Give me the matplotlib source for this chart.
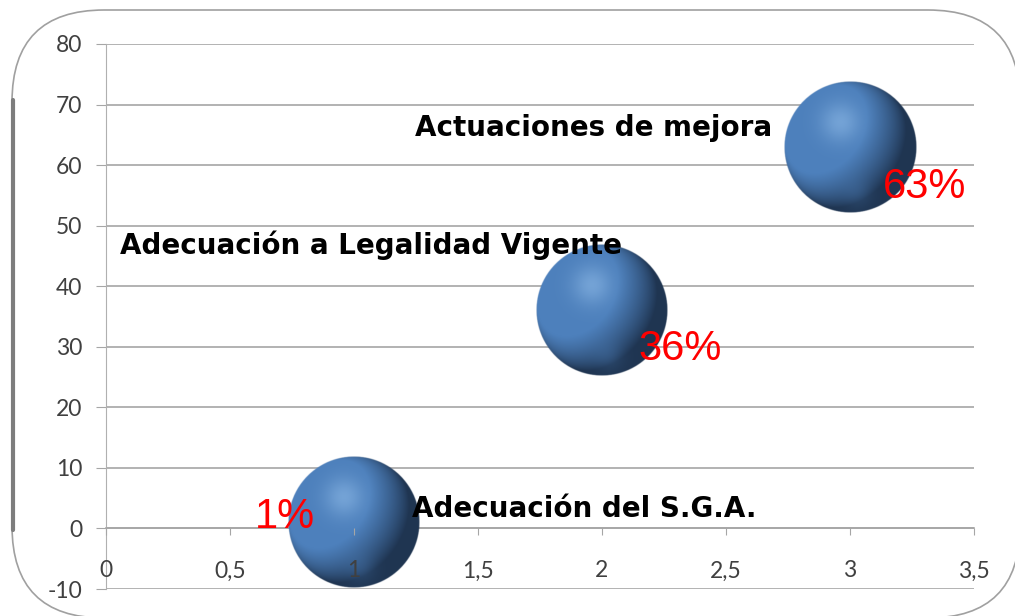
import matplotlib
matplotlib.use('Agg')
import matplotlib.pyplot as plt
import numpy as np
from matplotlib.patches import FancyBboxPatch

# datos del grafico
categorias = ['Adecuación del S.G.A.', 'Adecuación a Legalidad Vigente', 'Actuaciones de mejora']
x_vals = [1, 2, 3]
y_vals = [1, 36, 63]
porcentajes = ['1%', '36%', '63%']
x_ticks = [0, 0.5, 1, 1.5, 2, 2.5, 3, 3.5]
x_ticklabels = ['0', '0,5', '1', '1,5', '2', '2,5', '3', '3,5']
y_ticks = [-10, 0, 10, 20, 30, 40, 50, 60, 70, 80]

# desplazamientos de las etiquetas (puntos)
off_cat = [(42, 4), (-347, 41), (-313, 8)]
off_pct = [(-71, -4), (26, -36), (24, -37)]


def esfera(n=300):
    u = np.linspace(-1, 1, n)
    U, V = np.meshgrid(u, u)
    R = np.sqrt(U**2 + V**2)
    Z = np.sqrt(np.clip(1 - R**2, 0, None))
    L = np.array([-0.55, 0.40, 0.75])
    L = L / np.linalg.norm(L)
    diff = np.clip(U * L[0] + V * L[1] + Z * L[2], 0, 1)
    base = np.array([0x4d, 0x80, 0xbc]) / 255
    dark = np.array([0x10, 0x1c, 0x2e]) / 255
    t = np.clip(0.25 + diff * 1.1, 0, 1)[..., None]
    col = dark + (base - dark) * t
    spec = np.exp(-((U + 0.15)**2 + (V - 0.38)**2) / 0.09)[..., None] * 0.4
    luz = np.array([0.68, 0.84, 0.99])
    col = col + (luz - col) * spec
    rim = np.exp(-((U - 0.1)**2 + (V + 0.7)**2) / 0.05)[..., None] * 0.25
    col = col + (base - col) * rim
    alpha = np.clip((1 - R) * n / 3, 0, 1)
    img = np.dstack([np.clip(col, 0, 1), alpha])
    return img


def main():
    fig = plt.figure(figsize=(10.15, 6.16), dpi=100)
    fig.patch.set_facecolor('white')

    # marco redondeado
    fondo = fig.add_axes([0, 0, 1, 1])
    fondo.set_xlim(0, 1015)
    fondo.set_ylim(616, 0)
    fondo.axis('off')
    marco = FancyBboxPatch((12, 10), 1008, 608, boxstyle='round,pad=0,rounding_size=92',
                           facecolor='white', edgecolor='#a0a0a0', linewidth=1.2)
    fondo.add_patch(marco)
    fondo.plot([13, 13], [100, 530], color='#7d7d7d', linewidth=3, solid_capstyle='round')

    ax = fig.add_axes([0.1044, 0.0438, 0.8552, 0.8848])
    ax.set_facecolor('none')
    ax.set_xlim(0, 3.5)
    ax.set_ylim(-10, 80)

    ax.set_yticks(y_ticks)
    ax.set_yticklabels([str(v) for v in y_ticks])
    ax.set_xticks(x_ticks)
    ax.set_xticklabels(x_ticklabels)
    ax.yaxis.grid(True, color='#a6a6a6', linewidth=1.2)
    ax.set_axisbelow(True)

    for s in ['top', 'right']:
        ax.spines[s].set_visible(False)
    ax.spines['left'].set_color('#b0b0b0')
    ax.spines['bottom'].set_position(('data', 0))
    ax.spines['bottom'].set_color('#a6a6a6')
    ax.spines['bottom'].set_linewidth(1.2)

    ax.tick_params(axis='y', length=7, color='#a6a6a6', pad=10, labelsize=16.5,
                   labelcolor='#404040')
    ax.tick_params(axis='x', length=5, color='#a6a6a6', pad=18, labelsize=16.5,
                   labelcolor='#404040')
    for lbl in ax.get_xticklabels() + ax.get_yticklabels():
        lbl.set_family('Lato')
    ax.xaxis.set_zorder(4)

    # burbujas con sombreado de esfera
    fig.canvas.draw()
    inv = ax.transData.inverted()
    img = esfera()
    r_px = 66
    for x, y in zip(x_vals, y_vals):
        cx, cy = ax.transData.transform((x, y))
        x0, y0 = inv.transform((cx - r_px, cy - r_px))
        x1, y1 = inv.transform((cx + r_px, cy + r_px))
        ax.imshow(img, extent=[x0, x1, y0, y1], origin='lower', zorder=3,
                  interpolation='bilinear')
    ax.set_aspect('auto')
    ax.set_xlim(0, 3.5)
    ax.set_ylim(-10, 80)

    # etiquetas
    for x, y, cat, pct, oc, op in zip(x_vals, y_vals, categorias, porcentajes, off_cat, off_pct):
        ax.annotate(cat, xy=(x, y), xytext=oc, textcoords='offset points',
                    ha='left', va='baseline', fontsize=20, fontweight='bold',
                    family='DejaVu Sans', color='black', zorder=5)
        ax.annotate(pct, xy=(x, y), xytext=op, textcoords='offset points',
                    ha='left', va='baseline', fontsize=30, family='Liberation Sans',
                    color='#ff0000', zorder=5)

    plt.savefig('out.png', dpi=100)


if __name__ == "__main__":
    main()
